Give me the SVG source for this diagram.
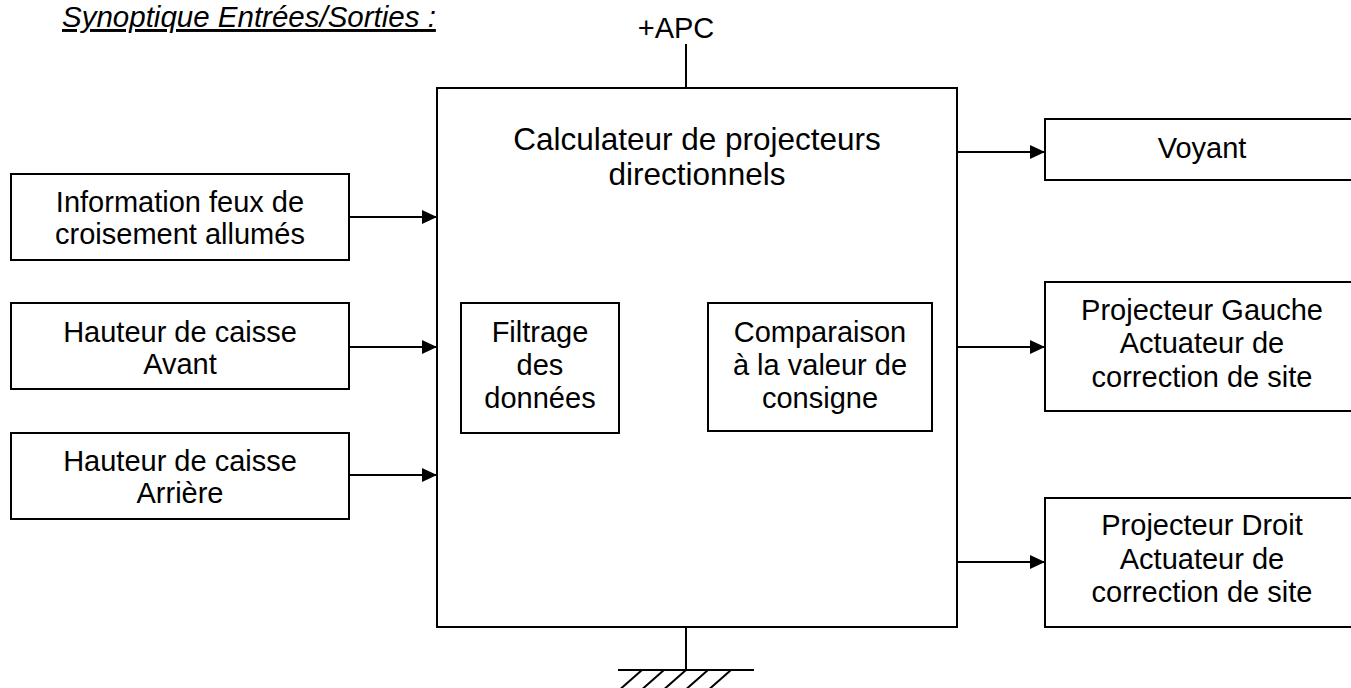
<svg xmlns="http://www.w3.org/2000/svg" width="1351" height="688" viewBox="0 0 1351 688">
<style>
.box{fill:#fff;stroke:#000;stroke-width:2}
.ln{fill:none;stroke:#000;stroke-width:2}
text{font-family:"Liberation Sans",Arial,sans-serif;font-size:29px;fill:#000;text-anchor:middle}
.title{font-style:italic;text-decoration:underline;text-anchor:start;font-size:29.5px}
.big{font-size:31.5px}
</style>
<defs>
<marker id="arr" markerWidth="15" markerHeight="14" refX="15" refY="7" orient="auto" markerUnits="userSpaceOnUse">
<path d="M0,0 L15,7 L0,14 Z" fill="#000"/>
</marker>
</defs>
<rect width="1351" height="688" fill="#fff"/>
<text class="title" x="62" y="27">Synoptique Entrées/Sorties :</text>

<g id="connectors">
<line class="ln" x1="686" y1="44" x2="686" y2="88"/>
<line class="ln" x1="686" y1="627" x2="686" y2="670"/>
<line class="ln" x1="618" y1="670" x2="754" y2="670"/>
<path class="ln" d="M642,670 L617,692 M664,670 L639,692 M686,670 L661,692 M708,670 L683,692 M731,670 L706,692"/>
<line class="ln" x1="349" y1="217" x2="437" y2="217" marker-end="url(#arr)"/>
<line class="ln" x1="349" y1="347" x2="437" y2="347" marker-end="url(#arr)"/>
<line class="ln" x1="349" y1="475" x2="437" y2="475" marker-end="url(#arr)"/>
<line class="ln" x1="619" y1="368" x2="708" y2="368" marker-end="url(#arr)"/>
<line class="ln" x1="957" y1="152" x2="1045" y2="152" marker-end="url(#arr)"/>
<line class="ln" x1="957" y1="347" x2="1045" y2="347" marker-end="url(#arr)"/>
<line class="ln" x1="957" y1="562" x2="1045" y2="562" marker-end="url(#arr)"/>
</g>

<g id="apc"><text x="676" y="38">+APC</text></g>

<g id="main">
<rect class="box" x="437" y="88" width="520" height="539"/>
<text class="big" x="697" y="150">Calculateur de projecteurs</text>
<text class="big" x="697" y="185">directionnels</text>
</g>

<g id="filtrage">
<rect class="box" x="461" y="303" width="158" height="130"/>
<text x="540" y="342">Filtrage</text>
<text x="540" y="375">des</text>
<text x="540" y="408">données</text>
</g>

<g id="comparaison">
<rect class="box" x="708" y="303" width="224" height="128"/>
<text x="820" y="342">Comparaison</text>
<text x="820" y="375">à la valeur de</text>
<text x="820" y="408">consigne</text>
</g>

<g id="info">
<rect class="box" x="11" y="174" width="338" height="86"/>
<text x="180" y="212">Information feux de</text>
<text x="180" y="244">croisement allumés</text>
</g>

<g id="avant">
<rect class="box" x="11" y="303" width="338" height="86"/>
<text x="180" y="342">Hauteur de caisse</text>
<text x="180" y="374">Avant</text>
</g>

<g id="arriere">
<rect class="box" x="11" y="433" width="338" height="86"/>
<text x="180" y="471">Hauteur de caisse</text>
<text x="180" y="503">Arrière</text>
</g>

<g id="voyant">
<rect class="box" x="1045" y="119" width="315" height="61"/>
<text x="1202" y="158">Voyant</text>
</g>

<g id="gauche">
<rect class="box" x="1045" y="282" width="315" height="129"/>
<text x="1202" y="320">Projecteur Gauche</text>
<text x="1202" y="353">Actuateur de</text>
<text x="1202" y="387">correction de site</text>
</g>

<g id="droit">
<rect class="box" x="1045" y="498" width="315" height="129"/>
<text x="1202" y="535">Projecteur Droit</text>
<text x="1202" y="569">Actuateur de</text>
<text x="1202" y="602">correction de site</text>
</g>
</svg>
